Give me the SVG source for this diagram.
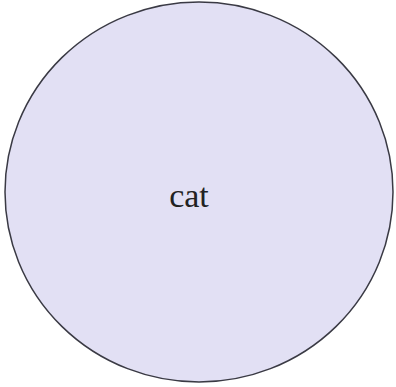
<svg xmlns="http://www.w3.org/2000/svg" width="396" height="387" viewBox="0 0 396 387">
<style>
.node{fill:#e2e0f4;stroke:#3a3a44;stroke-width:1.5}
.label{font-family:"Liberation Serif",serif;font-size:34px;fill:#222;text-anchor:middle}
</style>
<rect width="396" height="387" fill="#ffffff"/>
<g id="connectors"></g>
<g id="node-cat">
<ellipse class="node" cx="199" cy="192" rx="194" ry="190"/>
<text class="label" x="189" y="207">cat</text>
</g>
</svg>
